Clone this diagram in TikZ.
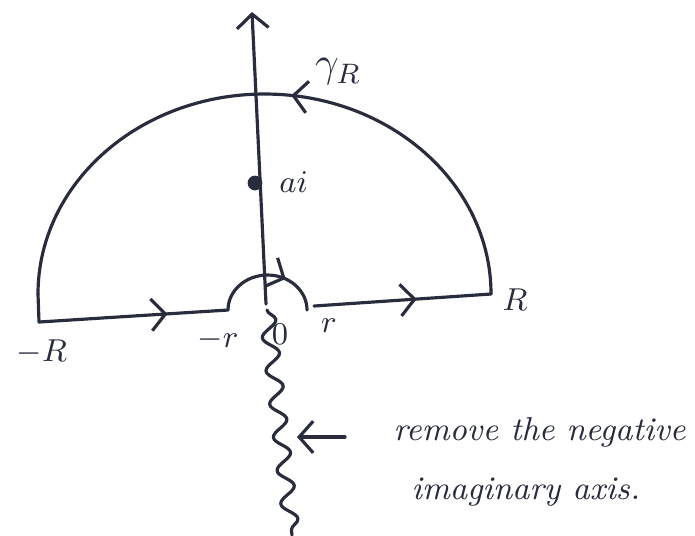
\documentclass[tikz,border=0pt]{standalone}
\usetikzlibrary{arrows.meta,decorations.markings,decorations.pathmorphing}
\begin{document}
\begin{tikzpicture}[x=0.01cm,y=-0.01cm, line width=0.9pt, line cap=round, line join=round,
  color={rgb,255:red,40;green,44;blue,60},
  barb/.style={-{Straight Barb[length=4pt,width=9pt,line width=0.9pt]}},
  midarrow/.style={postaction={decorate},decoration={markings,
     mark=at position #1 with {\arrow{Straight Barb[length=4pt,width=9pt,line width=0.9pt]}}}},
  lbl/.style={font=\small},
  note/.style={font=\fontsize{9.4}{11}\selectfont\itshape, anchor=west, inner sep=0pt}]
\useasboundingbox (0,0) rectangle (695,535);
% key points
\coordinate (axbot) at (266,304);
\coordinate (axtop) at (252,12);
\coordinate (Rright) at (491,294);
\coordinate (Rleft) at (38,294);
\coordinate (Rbot) at (39,322);
\coordinate (rleft) at (228,310);
\coordinate (rright) at (307,302);
\coordinate (rline) at (314,306);
\coordinate (wtop) at (267,310);
\coordinate (wbot) at (292,535);
\coordinate (ptail) at (345,437);
\coordinate (ptip) at (297,437);
% imaginary axis
\draw[barb] (axbot) -- (axtop);
% big arc gamma_R
\draw[midarrow=0.46] (Rright) arc[start angle=0, end angle=-180, x radius=226.5, y radius=200];
\draw (Rleft) -- (Rbot);
% segment [-R,-r]
\draw[midarrow=0.68] (Rbot) -- (rleft);
% small arc
\draw[midarrow=0.66] (rleft) arc[start angle=180, end angle=360, x radius=39.5, y radius=35];
% segment [r,R]
\draw[midarrow=0.58] (rline) -- (Rright);
% point ai
\fill (255,183) circle[radius=2.1pt];
\node[lbl, anchor=west] (ai) at (266,182) {$ai$};
\node[font=\large] (gam) at (338,72) {$\gamma_R$};
\node[lbl] (mR) at (42,352) {$-R$};
\node[lbl] (mr) at (218,340) {$-r$};
\node[lbl] (zero) at (280,334) {$0$};
\node[lbl] (r) at (329,326) {$r$};
\node[lbl] (R) at (515,300) {$R$};
% removed negative imaginary axis
\draw[decorate, decoration={snake, amplitude=2.2pt, segment length=9.5pt}] (wtop) -- (wbot);
\draw[barb] (ptail) -- (ptip);
\node[note] (t1) at (392,432) {remove the negative};
\node[note] (t2) at (410,492) {imaginary axis.};
\end{tikzpicture}
\end{document}
